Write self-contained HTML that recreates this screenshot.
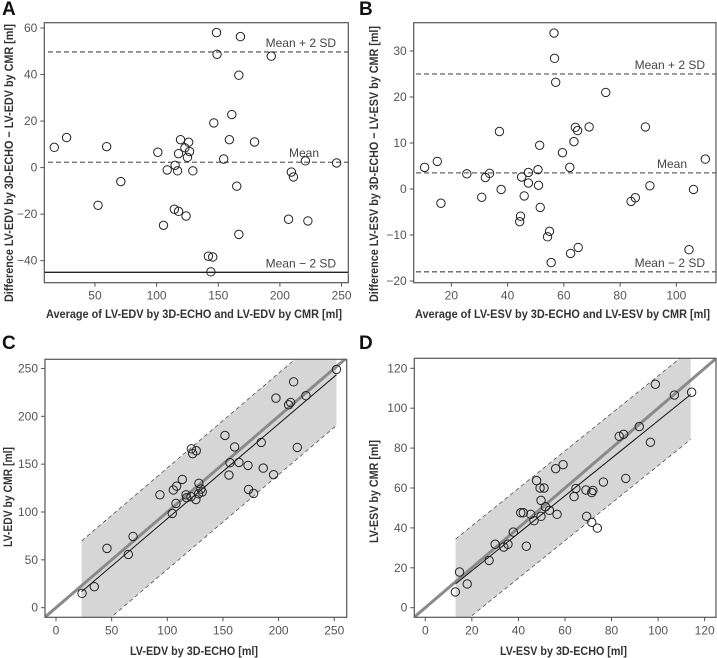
<!DOCTYPE html>
<html><head><meta charset="utf-8"><style>
html,body{margin:0;padding:0;background:#fff;}
svg{display:block;font-family:"Liberation Sans",sans-serif;}
</style></head><body>
<svg id="fig" width="717" height="658" viewBox="0 0 717 658"></svg>
<script>
// Panel A: Bland-Altman LV-EDV
const aAvg=[17,27,52.5,59.5,71,101,105.6,108.6,114.4,115,117.8,117.8,117,119.4,123,123.9,125,126,126.7,129.4,142,145.5,144,146.4,148.6,149,154.4,159,161,165,166.7,166.7,168,179.4,193,207,209.3,211,220.7,222.7,246];
const aDiff=[8.7,12.9,-16.2,9,-6,6.6,-24.8,-1,-17.9,1,6,-18.8,-1.4,12,8.5,-20.8,4.4,10.9,6.9,-1.4,-38.1,-38.4,-44.8,19.2,58,48.7,3.7,12,22.8,-8,39.7,-28.7,56.3,11,47.9,-22.2,-1.9,-4,2.9,-22.9,2];
const aXTicks=[50,100,150,200,250];
const aYTicks=[-40,-20,0,20,40,60];
const aLimits=[49.7,2.3,-45];
// Panel B: Bland-Altman LV-ESV
const bAvg=[10.5,15,16.3,25.5,30.8,32.1,33.6,37.1,37.7,44.3,44.6,45,45.9,47.4,47.4,50.8,51,51.4,51.6,54.2,54.9,55.5,56.5,56.7,57.1,59.5,62.1,62.4,63.6,64.1,64.9,65.1,69,74.9,83.9,85.4,89,90.6,104.5,106.1,110.3];
const bDiff=[4.7,6,-3.1,3.3,-1.8,2.5,3.4,12.5,-0.1,-7.1,-5.9,2.6,-1.5,1.3,3.6,4.2,0.8,9.5,-4,-10.4,-9.2,-16,33.9,28.4,23.2,7.9,4.7,-14,10.3,13.4,12.7,-12.7,13.5,21,-2.7,-1.9,13.5,0.7,-13.2,-0.1,6.5];
const bXTicks=[20,40,60,80,100];
const bYTicks=[-20,-10,0,10,20,30];
const bLimits=[25,3.5,-18];
// Panel C: LV-EDV correlation
const cEcho=[23.4,34.4,45.8,65,69.2,93.4,104.5,105.4,108.4,107.8,113.5,116.8,117.4,121.6,122.8,126,121.3,125.7,128.1,128.4,130.2,131.4,151.8,155.4,156.3,160.5,164.4,172.5,173,177.5,184.4,186.2,195.5,197.6,209,210.8,213.5,216.8,224.6,252];
const cCmr=[15,22,62,55.7,74.5,118,98.5,123,127,109,134,118,115,166,161,164,116,113,119,130,124,121,180,138.6,151.5,168,151.8,148.7,123.6,119.4,172.7,145.9,139,219,212,214.5,236,167.5,221.5,249];
const cXTicks=[0,50,100,150,200,250];
const cYTicks=[0,50,100,150,200,250];
const cFit=[0.99,-6,53,23,252]; // slope, intercept, band half-width, xmin, xmax
// Panel D: LV-ESV correlation
const dEcho=[12.9,14.7,18,27.4,30,33.7,35.5,37.8,43.4,41,42.1,45.3,46.7,47.8,49.3,49.7,49.7,51,51.6,53.3,56,56.6,59.2,63.9,64.7,69,69.3,71.5,71.5,72,73.9,76.5,83.3,85.2,86.1,91.9,96.7,98.8,107,114.4];
const dCmr=[7.9,17.9,11.9,23.7,31.8,30.4,31.8,37.9,30.8,47.6,47.6,46.8,43.6,63.7,60,53.8,45.8,60,50.6,48.8,69.7,46.8,71.7,55.7,59.8,59,45.8,42.8,57.7,58.8,39.9,63,85.9,86.9,64.8,90.8,82.9,112,106.6,108];
const dXTicks=[0,20,40,60,80,100,120];
const dYTicks=[0,20,40,60,80,100,120];
const dFit=[0.94,-0.3,22.5,13,114];

const NS="http://www.w3.org/2000/svg";
const svg=document.getElementById('fig');
function mk(tag,attrs,parent){const e=document.createElementNS(NS,tag);for(const k in attrs)e.setAttribute(k,attrs[k]);(parent||svg).appendChild(e);return e;}
function txt(s,attrs,parent){const e=mk('text',attrs,parent);e.textContent=s;return e;}
let clipN=0;
function panel(o){
  const g=mk('g',{});
  
  
  const sx=v=>o.x0+(v-o.xv0)*o.xs, sy=v=>o.y0-(v-o.yv0)*o.ys;
  const cid='clip'+(clipN++);
  const cp=mk('clipPath',{id:cid},g);mk('rect',{x:o.L,y:o.T,width:o.R-o.L,height:o.B-o.T},cp);
  const pg=mk('g',{'clip-path':'url(#'+cid+')'},g);
  o.draw&&o.draw(pg,sx,sy);
  for(let i=0;i<o.xs_d.length;i++){
    const c=mk('circle',{cx:sx(o.xs_d[i]),cy:sy(o.ys_d[i]),r:4.2,fill:'none',stroke:'#222','stroke-width':1},pg);
    
    
  }
  const box=mk('rect',{x:o.L,y:o.T,width:o.R-o.L,height:o.B-o.T,fill:'none',stroke:'#555','stroke-width':1.2},g);
  
  
  o.xt.forEach(v=>{const x=sx(v);mk('line',{x1:x,x2:x,y1:o.B,y2:o.B+4,stroke:'#555'},g);
    const t=txt(String(v),{x:x,y:o.B+17,'text-anchor':'middle','font-size':12,fill:'#555'},g);
    });
  o.yt.forEach(v=>{const y=sy(v);mk('line',{x1:o.L-4,x2:o.L,y1:y,y2:y,stroke:'#555'},g);
    const t=txt(String(v).replace('-','\u2212'),{x:o.L-7,y:y+4,'text-anchor':'end','font-size':12,fill:'#555'},g);
    });
  const xl=txt(o.xlab,{x:o.xl0,y:o.xly,'font-size':12,'font-weight':'bold',fill:'#333',textLength:o.xlw,lengthAdjust:'spacingAndGlyphs'},g);
  
  const yl=txt(o.ylab,{x:0,y:0,'font-size':12,'font-weight':'bold',fill:'#333',textLength:o.ylw,lengthAdjust:'spacingAndGlyphs',transform:'translate('+o.ylx+','+o.yl0+') rotate(-90)'},g);
  
  const pl=txt(o.letter,{x:o.lx,y:o.ly,'font-size':19,'font-weight':'bold',fill:'#111'},g);
  
}
function baLines(lims,labx,meanx){return (pg,sx,sy)=>{
  const labs=['Mean + 2 SD','Mean','Mean \u2212 2 SD'];
  lims.forEach((v,i)=>{const y=sy(v);
    const solid=(i==2&&labx.solidLow);
    const l=mk('line',{x1:0,x2:717,y1:y,y2:y,stroke:solid?'#222':'#666','stroke-width':1.3,'stroke-dasharray':solid?'':'5,3'},pg);
    
    const t=txt(labs[i],{x:i==1?meanx:labx.x,y:y-5,'text-anchor':i==1?'start':'end','font-size':12,fill:'#444'},pg);
    
  });};}
function corr(fit,lo,hi){return (pg,sx,sy)=>{
  const [m,b,w,x1,x2]=fit;
  const pts=[[x1,m*x1+b+w],[x2,m*x2+b+w],[x2,m*x2+b-w],[x1,m*x1+b-w]].map(p=>sx(p[0])+','+sy(p[1])).join(' ');
  const band=mk('polygon',{points:pts,fill:'#d6d6d6',stroke:'none'},pg);
  
  [w,-w].forEach(d=>mk('line',{x1:sx(x1),y1:sy(m*x1+b+d),x2:sx(x2),y2:sy(m*x2+b+d),stroke:'#555','stroke-width':0.8,'stroke-dasharray':'4,3'},pg));
  const id=mk('line',{x1:sx(lo),y1:sy(lo),x2:sx(hi),y2:sy(hi),stroke:'#8a8a8a','stroke-width':3},pg);
  
  const rg=mk('line',{x1:sx(x1),y1:sy(m*x1+b),x2:sx(x2),y2:sy(m*x2+b),stroke:'#111','stroke-width':1},pg);
  
};}
panel({name:'panel-a',letter:'A',lx:2,ly:15,L:44.3,T:22.7,R:348.3,B:282.7,x0:33.3,xv0:0,xs:1.233,y0:167.6,yv0:0,ys:2.327,
  xs_d:aAvg,ys_d:aDiff,xt:aXTicks,yt:aYTicks,xly:318,xl0:46,xlw:296,ylx:13,yl0:302,ylw:278,
  xlab:'Average of LV-EDV by 3D-ECHO and LV-EDV by CMR [ml]',ylab:'Difference LV-EDV by 3D-ECHO \u2212 LV-EDV by CMR [ml]',
  draw:baLines(aLimits,{x:336,solidLow:true},289)});
panel({name:'panel-b',letter:'B',lx:359,ly:15,L:413.7,T:22.7,R:716,B:282.7,x0:395.1,xv0:0,xs:2.8125,y0:189,yv0:0,ys:4.6,
  xs_d:bAvg,ys_d:bDiff,xt:bXTicks,yt:bYTicks,xly:318,xl0:415,xlw:295,ylx:378,yl0:302,ylw:276,
  xlab:'Average of LV-ESV by 3D-ECHO and LV-ESV by CMR [ml]',ylab:'Difference LV-ESV by 3D-ECHO \u2212 LV-ESV by CMR [ml]',
  draw:baLines(bLimits,{x:705,solidLow:false},657)});
panel({name:'panel-c',letter:'C',lx:2,ly:349,L:45,T:359.3,R:346.7,B:617.3,x0:56,xv0:0,xs:1.113,y0:607.7,yv0:0,ys:0.957,
  xs_d:cEcho,ys_d:cCmr,xt:cXTicks,yt:cYTicks,xly:655,xl0:130,xlw:128,ylx:12,yl0:547,ylw:100,
  xlab:'LV-EDV by 3D-ECHO [ml]',ylab:'LV-EDV by CMR [ml]',draw:corr(cFit,-20,300)});
panel({name:'panel-d',letter:'D',lx:359,ly:349,L:414.3,T:358.3,R:716,B:617.3,x0:425.3,xv0:0,xs:2.328,y0:607.7,yv0:0,ys:1.995,
  xs_d:dEcho,ys_d:dCmr,xt:dXTicks,yt:dYTicks,xly:655,xl0:500,xlw:127,ylx:378,yl0:543,ylw:103,
  xlab:'LV-ESV by 3D-ECHO [ml]',ylab:'LV-ESV by CMR [ml]',draw:corr(dFit,-10,140)});
</script>
</body></html>
